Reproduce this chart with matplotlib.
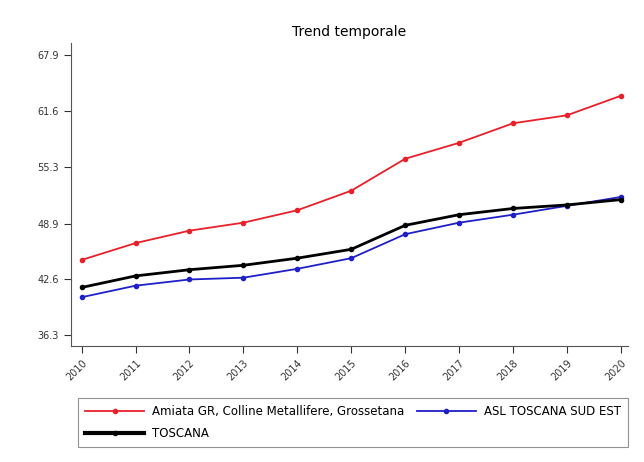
import numpy as np
import matplotlib.pyplot as plt
from matplotlib.lines import Line2D

years = [2010, 2011, 2012, 2013, 2014, 2015, 2016, 2017, 2018, 2019, 2020]
zona = [44.8, 46.7, 48.1, 49.0, 50.4, 52.6, 56.2, 58.0, 60.2, 61.1, 63.3]
asl = [40.6, 41.9, 42.6, 42.8, 43.8, 45.0, 47.7, 49.0, 49.9, 50.9, 51.9]
toscana = [41.7, 43.0, 43.7, 44.2, 45.0, 46.0, 48.7, 49.9, 50.6, 51.0, 51.6]
yticks = [36.3, 42.6, 48.9, 55.3, 61.6, 67.9]

names = ['Amiata GR, Colline Metallifere, Grossetana', 'ASL TOSCANA SUD EST', 'TOSCANA']
colors = ['#e8202a', '#1f1fc8', '#000000']

fig = plt.figure(figsize=(6.44, 4.62), dpi=100)
ax = fig.add_axes([0.110, 0.251, 0.865, 0.656])

# lines
ax.plot(years, zona, color=colors[0], lw=1.3, marker='o', ms=3)
ax.plot(years, asl, color=colors[1], lw=1.3, marker='o', ms=3)
ax.plot(years, toscana, color=colors[2], lw=2.0, marker='o', ms=3)

ax.set_xlim(2009.8, 2020.13)
ax.set_ylim(35.1, 69.25)
ax.set_xticks(years)
ax.set_xticklabels([str(y) for y in years], rotation=45, ha='right',
                   rotation_mode='anchor', fontsize=7)
ax.set_yticks(yticks)
ax.set_yticklabels(['%.1f' % v for v in yticks], fontsize=7)
ax.spines['top'].set_visible(False)
ax.spines['right'].set_visible(False)
ax.spines['left'].set_color('#555555')
ax.spines['bottom'].set_color('#555555')
ax.tick_params(colors='#333333', length=5)
ax.set_title('Trend temporale', fontsize=10, pad=5)

# legend: red and black in first column, blue in second
h_red = Line2D([], [], color=colors[0], lw=1.3, marker='o', ms=3)
h_blue = Line2D([], [], color=colors[1], lw=1.3, marker='o', ms=3)
h_black = Line2D([], [], color=colors[2], lw=3.0, marker='o', ms=3)
leg = fig.legend([h_red, h_black, h_blue], [names[0], names[2], names[1]],
                 loc='upper left', ncol=2,
                 bbox_to_anchor=(0.121, 0.0, 0.854, 0.1385), mode='expand',
                 fontsize=8.5, fancybox=False, edgecolor='#777777',
                 handlelength=5.0, handletextpad=0.7, labelspacing=0.75,
                 borderaxespad=0, borderpad=0.6)
leg.get_frame().set_linewidth(0.8)

plt.savefig('out.png')
